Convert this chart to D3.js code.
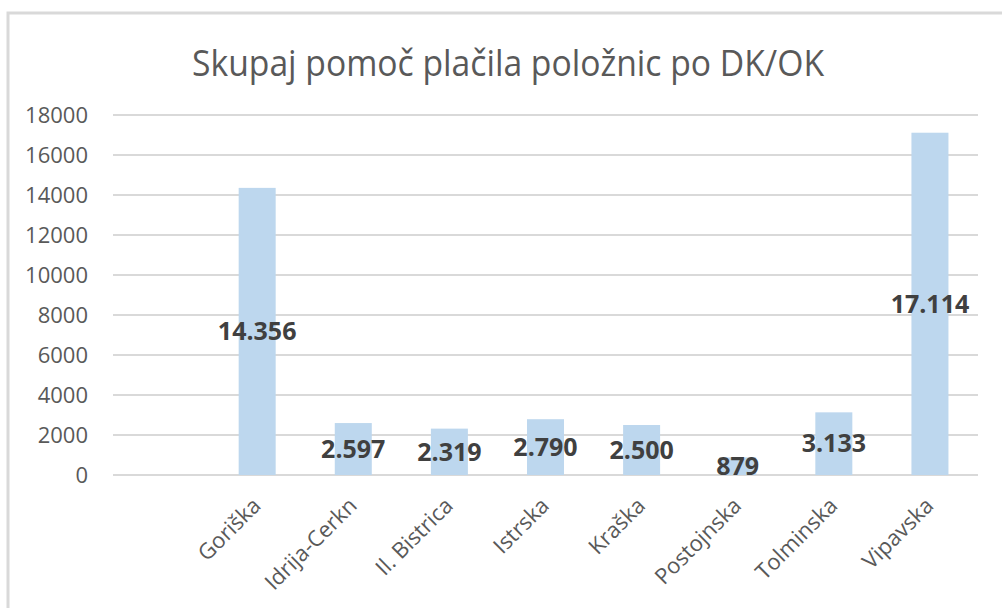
<!DOCTYPE html>
<html>
  <head>
    <meta charset="UTF-8" />
    <script src="https://d3js.org/d3.v7.min.js"></script>
    <title>Skupaj pomoč plačila položnic po DK/OK</title>
    <style>
      body { margin: 0; background: #fff; }
    </style>
  </head>
  <body>
    <div id="chart"></div>
    <script>
      // data
      var categories = ["Goriška", "Idrija-Cerkn", "Il. Bistrica", "Istrska", "Kraška", "Postojnska", "Tolminska", "Vipavska"];
      var values = [14356, 2597, 2319, 2790, 2500, 879, 3133, 17114];
      var yTicks = [0, 2000, 4000, 6000, 8000, 10000, 12000, 14000, 16000, 18000];

      var W = 1002, H = 608;
      var margin = { top: 115, right: 24, bottom: 133, left: 113 };
      var width = W - margin.left - margin.right,
          height = H - margin.top - margin.bottom;

      var svg = d3.select("#chart")
        .append("svg")
        .attr("width", W)
        .attr("height", H);

      // chart border (only top and left edges fall inside the picture)
      svg.append("rect")
        .attr("x", 8)
        .attr("y", 13)
        .attr("width", W + 20)
        .attr("height", H + 20)
        .attr("fill", "#fff")
        .attr("stroke", "#d9d9d9")
        .attr("stroke-width", 3);

      // title
      svg.append("text")
        .attr("x", 508)
        .attr("y", 76)
        .attr("text-anchor", "middle")
        .attr("textLength", 632)
        .attr("lengthAdjust", "spacingAndGlyphs")
        .style("font-family", "'Open Sans', sans-serif")
        .style("font-size", "36px")
        .style("fill", "#595959")
        .text("Skupaj pomoč plačila položnic po DK/OK");

      var g = svg.append("g")
        .attr("transform", "translate(" + margin.left + "," + margin.top + ")");

      // first slot of the axis is an empty category
      var x = d3.scaleBand()
        .domain([""].concat(categories))
        .range([0, width])
        .padding(0);

      var y = d3.scaleLinear()
        .domain([0, 18000])
        .range([height, 0]);

      // gridlines
      g.append("g")
        .selectAll("line")
        .data(yTicks)
        .enter()
        .append("line")
        .attr("x1", 0)
        .attr("x2", width)
        .attr("y1", function(d) { return y(d); })
        .attr("y2", function(d) { return y(d); })
        .attr("stroke", "#d9d9d9")
        .attr("stroke-width", 2);

      // y axis labels
      var yAxis = g.append("g")
        .attr("transform", "translate(-22,0)")
        .call(d3.axisLeft(y).tickValues(yTicks).tickFormat(d3.format("d")).tickSize(0));
      yAxis.select(".domain").remove();
      yAxis.selectAll("text")
        .style("font-family", "'Open Sans', sans-serif")
        .style("font-size", "22px")
        .style("fill", "#595959");

      // bars
      var barW = x.bandwidth() * 0.385;
      var data = categories.map(function(c, i) { return { cat: c, value: values[i] }; });

      g.append("g")
        .selectAll("rect")
        .data(data)
        .enter()
        .append("rect")
        .attr("x", function(d) { return x(d.cat) + (x.bandwidth() - barW) / 2; })
        .attr("y", function(d) { return y(d.value); })
        .attr("width", barW)
        .attr("height", function(d) { return height - y(d.value); })
        .attr("fill", "#bdd7ee");

      // data labels, centred in the bar
      var sl = d3.formatLocale({ decimal: ",", thousands: ".", grouping: [3], currency: ["", " €"] });
      var fmt = sl.format(",d");

      g.append("g")
        .selectAll("text")
        .data(data)
        .enter()
        .append("text")
        .attr("x", function(d) { return x(d.cat) + x.bandwidth() / 2; })
        .attr("y", function(d) { return (y(d.value) + height) / 2; })
        .attr("dy", "0.35em")
        .attr("text-anchor", "middle")
        .style("font-family", "'Open Sans', sans-serif")
        .style("font-weight", "bold")
        .style("font-size", "25px")
        .style("fill", "#404040")
        .text(function(d) { return fmt(d.value); });

      // x labels, rotated
      g.append("g")
        .selectAll("text")
        .data(categories)
        .enter()
        .append("text")
        .attr("transform", function(d) {
          return "translate(" + (x(d) + x.bandwidth() / 2 + 5) + "," + (height + 32) + ")rotate(-45)";
        })
        .attr("text-anchor", "end")
        .style("font-family", "'Open Sans', sans-serif")
        .style("font-size", "22px")
        .style("fill", "#595959")
        .text(function(d) { return d; });
    </script>
  </body>
</html>
